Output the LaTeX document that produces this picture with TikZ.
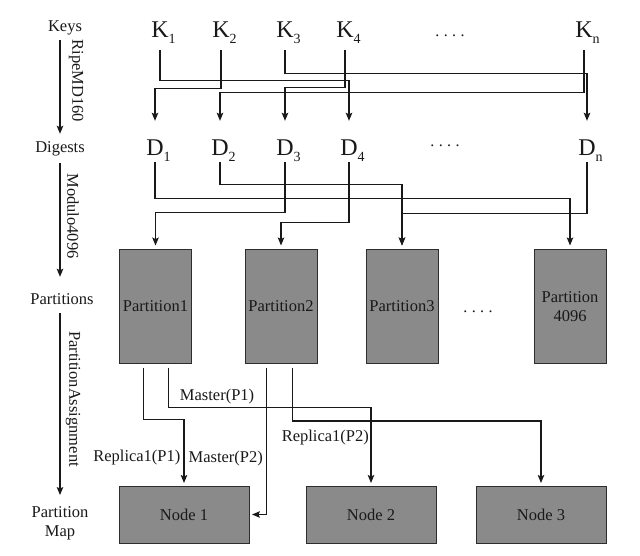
\documentclass[tikz,border=0pt]{standalone}
\usepackage{fontspec}
\setmainfont{Liberation Serif}
\usetikzlibrary{arrows.meta}

\definecolor{ink}{RGB}{25,25,25}
\definecolor{boxfill}{RGB}{138,138,138}
\definecolor{boxedge}{RGB}{45,45,45}

% letter with a lowered index, the index kept outside the node width
\newcommand\sublab[2]{#1\rlap{\raisebox{-6pt}{\fontsize{14}{16}\selectfont #2}}}
\newcommand\ellip{.\hspace{4.5pt}.\hspace{4.5pt}.\hspace{4.5pt}.}

\begin{document}
\begin{tikzpicture}[x=1pt,y=-1pt,
  font=\fontsize{16.5}{19}\selectfont,
  conn/.style={draw=ink, line width=1.2pt},
  arr/.style={conn, -{Stealth[length=8pt,width=6.5pt,inset=1.5pt]}},
  side/.style={inner sep=0pt, text height=12pt, text depth=4pt, anchor=base, text=ink},
  sidearrow/.style={inner sep=0pt, rotate=-90, text=ink},
  keylab/.style={font=\fontsize{24}{28}\selectfont, inner sep=0pt, text height=16pt, text depth=12pt, anchor=base, text=ink},
  diglab/.style={font=\fontsize{24}{28}\selectfont, inner sep=0pt, text height=35pt, text depth=6pt, anchor=base, text=ink},
  dots/.style={font=\fontsize{16}{18}\selectfont, inner sep=0pt, anchor=base, text=ink},
  partbox/.style={draw=boxedge, fill=boxfill, line width=1pt, minimum width=72pt, minimum height=113pt, inner sep=0pt, outer sep=4.5pt, align=center, text=ink},
  nodebox/.style={draw=boxedge, fill=boxfill, line width=1pt, minimum width=130pt, minimum height=57pt, inner sep=0pt, outer sep=3pt, text=ink},
  lab/.style={inner sep=3pt, text=ink},
]
\fill[white] (0,0) rectangle (640,556);
\useasboundingbox (0,0) rectangle (640,556);

% stage names on the left
\node[side] (keys) at (65,32) {Keys};
\node[side] (dig) at (60,153) {Digests};
\node[side] (parts) at (62,305) {Partitions};
\node[inner sep=0pt, align=center, text=ink] (pmap) at (60,523) {Partition\\Map};

\draw[arr, shorten <=4pt, shorten >=7pt] (keys.south -| dig.south) -- (dig.north);
\draw[arr, shorten <=6pt, shorten >=16pt] (dig.south) -- (parts.north -| dig.south);
\draw[arr, shorten <=4pt, shorten >=11pt] (parts.south -| dig.south) -- (pmap.north -| dig.south);

\node[sidearrow] (ripe) at (76,81) {RipeMD160};
\node[sidearrow] (modulo) at (73,216) {Modulo4096};
\node[sidearrow] (assign) at (73,399) {PartitionAssignment};

% keys
\node[keylab] (k1) at (160,38) {\sublab{K}{1}};
\node[keylab] (k2) at (221,38) {\sublab{K}{2}};
\node[keylab] (k3) at (285,38) {\sublab{K}{3}};
\node[keylab] (k4) at (345,38) {\sublab{K}{4}};
\node[dots] (kdots) at (450,37) {\ellip};
\node[keylab] (kn) at (584,38) {\sublab{K}{n}};

% digests
\node[diglab] (d1) at (155,156) {\sublab{D}{1}};
\node[diglab] (d2) at (220,156) {\sublab{D}{2}};
\node[diglab] (d3) at (285,156) {\sublab{D}{3}};
\node[diglab] (d4) at (349,156) {\sublab{D}{4}};
\node[dots] (ddots) at (445,147) {\ellip};
\node[diglab] (dn) at (587,156) {\sublab{D}{n}};

% partitions
\node[partbox] (p1) at (155.5,306.5) {Partition1};
\node[partbox] (p2) at (281,306.5) {Partition2};
\node[partbox] (p3) at (402,306.5) {Partition3};
\node[dots] (pdots) at (478,312) {\ellip};
\node[partbox] (p4) at (570,306.5) {Partition\\4096};

% storage nodes
\node[nodebox] (n1) at (184,514.5) {Node 1};
\node[nodebox] (n2) at (371,514.5) {Node 2};
\node[nodebox] (n3) at (541,514.5) {Node 3};

% hashing: keys to digests
\draw[arr] (k1.south) -- ++(0,30) -| (d4.north);
\draw[arr] (k2.south) -- ++(0,38) -| (d1.north);
\draw[arr] (k3.south) -- ++(0,23) -| (dn.north);
\draw[arr] (k4.south) -- ++(0,37) -| (d3.north);
\draw[arr] (kn.south) -- ++(0,42) -| (d2.north);

% modulo: digests to partitions
\draw[arr] (d1.south) -- ++(0,36) -| (p4.north);
\draw[arr] (d2.south) -- ++(0,22) -| (p3.north);
\draw[arr] (d3.south) -- ++(0,50) -| (p1.north);
\draw[arr] (d4.south) -- ++(0,60) -| (p2.north);
\draw[arr] (dn.south) -- ++(0,51) -| (p3.north);

% assignment: partitions to nodes
\draw[arr] ([xshift=-12pt]p1.south) -- ++(0,52)
  -| node[lab, left, pos=0.8] {Replica1(P1)} (n1.north);
\draw[arr] ([xshift=13pt]p1.south) -- ++(0,40)
  -| node[lab, above, pos=0.12] {Master(P1)} (n2.north);
\draw[arr] ([xshift=-14.5pt]p2.south)
  |- node[lab, left, pos=0.31] {Master(P2)} (n1.east);
\draw[arr] ([xshift=11.5pt]p2.south) -- ++(0,53.5)
  -| node[lab, below=5pt, pos=0.066] {Replica1(P2)} (n3.north);
\end{tikzpicture}
\end{document}
